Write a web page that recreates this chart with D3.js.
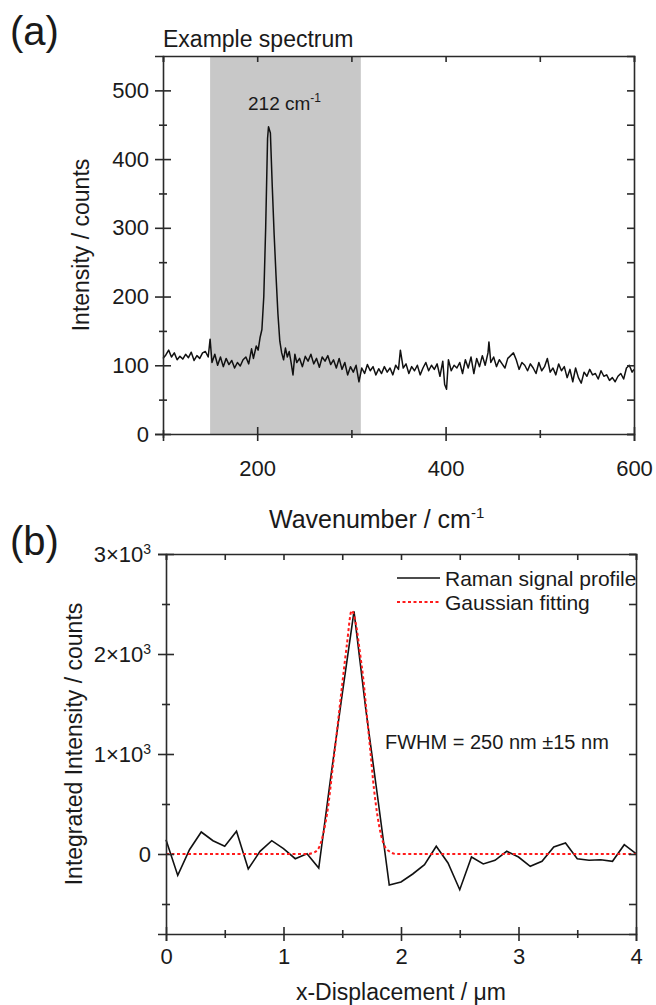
<!DOCTYPE html>
<html>
<head>
<meta charset="utf-8">
<script src="https://cdn.jsdelivr.net/npm/d3@7"></script>
<style>
  body { margin: 0; background: #fff; }
  text { font-family: "Liberation Sans", Arial, sans-serif; fill: #1a1a1a; }
</style>
</head>
<body>
<div id="chart"></div>
<script>
// ---- panel (a): example Raman spectrum [wavenumber, counts]
const spectrum = [
  [100,110],[103,115],[106,122],[109,112],[112,118],[115,108],[118,113],[121,109],[124,116],[127,111],
  [130,119],[133,107],[136,114],[139,110],[142,118],[145,120],[148,112],[150,138],[152,104],[155,116],
  [158,100],[161,112],[164,98],[167,110],[170,101],[173,107],[176,96],[179,104],[182,99],[185,108],
  [188,112],[191,102],[194,124],[196,110],[199,128],[201,122],[203,140],[205,152],[207,200],[209,300],
  [211,430],[212,447],[214,438],[216,360],[218,290],[220,230],[222,175],[224,135],[226,118],[228,108],
  [230,125],[232,112],[234,120],[236,104],[238,86],[240,116],[242,104],[245,110],[248,98],[251,113],
  [254,106],[257,116],[260,102],[263,110],[266,97],[269,112],[272,106],[275,114],[278,101],[281,108],
  [284,96],[287,110],[290,94],[293,104],[296,86],[299,98],[302,90],[305,100],[308,76],[311,96],
  [314,88],[317,101],[320,92],[323,98],[326,86],[329,95],[332,88],[335,98],[338,90],[341,96],
  [344,86],[347,100],[350,94],[352,122],[355,96],[358,102],[361,88],[364,98],[367,92],[370,100],
  [373,86],[376,96],[379,104],[382,92],[385,100],[388,94],[391,102],[394,84],[397,106],[399,72],
  [401,65],[403,108],[406,92],[409,100],[412,96],[415,104],[418,88],[421,108],[424,96],[427,112],
  [430,88],[433,110],[436,98],[439,114],[442,100],[445,118],[446,134],[448,104],[451,112],[454,98],
  [457,108],[460,102],[463,96],[466,110],[469,114],[472,118],[475,108],[478,94],[481,104],[484,100],
  [487,92],[490,102],[493,96],[496,88],[499,104],[502,92],[505,98],[508,110],[511,90],[514,96],
  [517,86],[520,102],[523,92],[526,98],[529,82],[532,94],[535,76],[538,96],[541,82],[544,74],
  [547,90],[550,84],[553,94],[556,86],[559,88],[562,80],[565,92],[568,84],[571,86],[574,78],
  [577,82],[580,76],[583,84],[586,88],[589,80],[592,96],[595,100],[598,90],[600,94]
];
const bandRange = [150, 310];           // shaded integration window
const peakText = "212 cm";
const aXDomain = [100, 600];
const aYDomain = [0, 550];
const aXMajor = [200, 400, 600];
const aXMinor = [100, 300, 500];
const aYMajor = [0, 100, 200, 300, 400, 500];
const aYMinor = [50, 150, 250, 350, 450];

// ---- panel (b): line profile [displacement um, integrated counts]
const profile = [
  [0.0,143],[0.1,-214],[0.2,43],[0.3,220],[0.4,133],[0.5,77],[0.6,227],[0.7,-150],[0.8,27],[0.9,133],
  [1.0,53],[1.1,-47],[1.2,3],[1.3,-140],[1.4,750],[1.5,1600],[1.6,2426],[1.7,1450],[1.8,580],[1.9,-310],
  [2.0,-280],[2.1,-200],[2.2,-107],[2.3,77],[2.4,-90],[2.5,-357],[2.6,-30],[2.7,-100],[2.8,-63],[2.9,27],
  [3.0,-30],[3.1,-123],[3.2,-73],[3.3,70],[3.4,110],[3.5,-47],[3.6,-63],[3.7,-57],[3.8,-73],[3.9,93],
  [4.0,3]
];
// gaussian fit curve
const fitCurve = [
  [0,0],[1.2,0],[1.26,15],[1.30,60],[1.34,210],[1.38,476],[1.42,876],[1.46,1280],[1.50,1700],
  [1.54,2100],[1.58,2433],[1.62,2276],[1.65,2020],[1.68,1743],[1.71,1380],[1.74,1020],[1.77,650],
  [1.80,380],[1.83,190],[1.86,80],[1.90,27],[1.96,0],[4,0]
];
const bXDomain = [0, 4];
const bYDomain = [-800, 3000];
const bXMajor = [0, 1, 2, 3, 4];
const bXMinor = [0.5, 1.5, 2.5, 3.5];
const bYMajor = [0, 1000, 2000, 3000];
const bYMinor = [-500, 500, 1500, 2500];

const svg = d3.select("#chart").append("svg")
  .attr("width", 656).attr("height", 1005);

const axisColor = "#2a2a2a";

// closed frame: crossing ticks on bottom/left, inward ticks on top/right
function drawFrame(x, y, c) {
  const [x0, x1] = x.range();
  const [y0, y1] = y.range(); // y0 bottom, y1 top
  const g = svg.append("g");

  const bottom = g.append("g").attr("transform", `translate(0,${y0})`)
    .call(d3.axisBottom(x).tickValues(c.xMajor).tickSizeOuter(0).tickSize(7).tickFormat(d3.format("d")));
  bottom.selectAll(".tick line").attr("y1", -7).attr("y2", 7);
  bottom.selectAll(".tick text").attr("y", c.xLabelY).attr("dy", null)
    .style("font-size", "22px");

  const bottomMinor = g.append("g").attr("transform", `translate(0,${y0})`)
    .call(d3.axisBottom(x).tickValues(c.xMinor).tickFormat("").tickSize(4));
  bottomMinor.selectAll(".tick line").attr("y1", -4).attr("y2", 4);
  bottomMinor.select(".domain").remove();

  const left = g.append("g").attr("class", "y-left").attr("transform", `translate(${x0},0)`)
    .call(d3.axisLeft(y).tickValues(c.yMajor).tickSizeOuter(0).tickSize(8).tickFormat(d3.format("d")));
  left.selectAll(".tick line").attr("x1", -8).attr("x2", 8);
  left.selectAll(".tick text").attr("x", -c.yLabelPad).style("font-size", "22px");

  const leftMinor = g.append("g").attr("transform", `translate(${x0},0)`)
    .call(d3.axisLeft(y).tickValues(c.yMinor).tickFormat("").tickSize(4));
  leftMinor.selectAll(".tick line").attr("x1", -4).attr("x2", 4);
  leftMinor.select(".domain").remove();

  g.append("g").attr("transform", `translate(0,${y1})`)
    .call(d3.axisTop(x).tickValues(c.xMajor.concat(c.xMinor)).tickFormat("").tickSizeOuter(0).tickSize(-6));
  g.append("g").attr("transform", `translate(${x1},0)`)
    .call(d3.axisRight(y).tickValues(c.yMajor.concat(c.yMinor)).tickFormat("").tickSizeOuter(0).tickSize(-7));

  g.selectAll(".domain, .tick line")
    .attr("stroke", axisColor).attr("stroke-width", 1.6);
  g.selectAll(".tick text").attr("fill", "#1a1a1a")
    .style("font-family", "'Liberation Sans', Arial, sans-serif");
  return g;
}

// ================= panel (a)
const xA = d3.scaleLinear().domain(aXDomain).range([163, 634]);
const yA = d3.scaleLinear().domain(aYDomain).range([434, 56]);

svg.append("rect")
  .attr("x", xA(bandRange[0]))
  .attr("y", yA(aYDomain[1]))
  .attr("width", xA(bandRange[1]) - xA(bandRange[0]))
  .attr("height", yA(0) - yA(aYDomain[1]))
  .attr("fill", "#c8c8c8");

svg.append("path")
  .datum(spectrum)
  .attr("fill", "none")
  .attr("stroke", "#111")
  .attr("stroke-width", 1.5)
  .attr("stroke-linejoin", "round")
  .attr("d", d3.line().x(d => xA(d[0])).y(d => yA(d[1])));

drawFrame(xA, yA, {
  xMajor: aXMajor, xMinor: aXMinor, yMajor: aYMajor, yMinor: aYMinor,
  xLabelY: 42, yLabelPad: 14
});

svg.append("text").attr("x", 10).attr("y", 45)
  .style("font-size", "40px").text("(a)");
svg.append("text").attr("x", 163).attr("y", 47)
  .style("font-size", "23px").text("Example spectrum");

const peakLab = svg.append("text").attr("x", 248).attr("y", 110)
  .style("font-size", "19px").text(peakText);
peakLab.append("tspan").attr("dy", -8).style("font-size", "12px").text("-1");

const xTitleA = svg.append("text")
  .attr("x", 269).attr("y", 528)
  .style("font-size", "25px").text("Wavenumber / cm");
xTitleA.append("tspan").attr("dy", -10).style("font-size", "15px").text("-1");

svg.append("text")
  .attr("transform", `translate(89,${(434 + 56) / 2}) rotate(-90)`)
  .attr("text-anchor", "middle")
  .style("font-size", "23px").text("Intensity / counts");

// ================= panel (b)
const xB = d3.scaleLinear().domain(bXDomain).range([166, 636]);
const yB = d3.scaleLinear().domain(bYDomain).range([934, 554]);

svg.append("path")
  .datum(profile)
  .attr("fill", "none")
  .attr("stroke", "#111")
  .attr("stroke-width", 1.6)
  .attr("d", d3.line().x(d => xB(d[0])).y(d => yB(d[1])));

svg.append("path")
  .datum(fitCurve)
  .attr("fill", "none")
  .attr("stroke", "#ff1a1a")
  .attr("stroke-width", 2)
  .attr("stroke-dasharray", "3,2.5")
  .attr("d", d3.line().curve(d3.curveMonotoneX).x(d => xB(d[0])).y(d => yB(d[1])));

const frameB = drawFrame(xB, yB, {
  xMajor: bXMajor, xMinor: bXMinor, yMajor: bYMajor, yMinor: bYMinor,
  xLabelY: 30, yLabelPad: 15
});

// superscript tick labels: 1x10^3 etc.
frameB.select(".y-left").selectAll(".tick text").each(function(d) {
  if (d === 0) return;
  const t = d3.select(this);
  t.text(null);
  t.append("tspan").text(d / 1000 + "\u00d710");
  t.append("tspan").attr("dy", -8).style("font-size", "14px").text("3");
});

svg.append("text").attr("x", 10).attr("y", 555)
  .style("font-size", "40px").text("(b)");

// legend
const legendRows = [
  { label: "Raman signal profile", color: "#111", dash: null, width: 1.6 },
  { label: "Gaussian fitting", color: "#ff1a1a", dash: "3,2.5", width: 2 }
];
const legend = svg.append("g").attr("transform", "translate(397,578)");
legendRows.forEach((r, i) => {
  legend.append("line")
    .attr("x1", 0).attr("x2", 43).attr("y1", i * 24).attr("y2", i * 24)
    .attr("stroke", r.color).attr("stroke-width", r.width)
    .attr("stroke-dasharray", r.dash);
  legend.append("text")
    .attr("x", 48).attr("y", i * 24 + 7.5)
    .style("font-size", "21px").text(r.label);
});

svg.append("text").attr("x", 385).attr("y", 749)
  .style("font-size", "20px").text("FWHM = 250 nm \u00b115 nm");

svg.append("text")
  .attr("x", (166 + 636) / 2).attr("y", 1000)
  .attr("text-anchor", "middle")
  .style("font-size", "23px").text("x-Displacement / \u03bcm");

svg.append("text")
  .attr("transform", `translate(82,${(934 + 554) / 2}) rotate(-90)`)
  .attr("text-anchor", "middle")
  .style("font-size", "23px").text("Integrated Intensity / counts");
</script>
</body>
</html>
